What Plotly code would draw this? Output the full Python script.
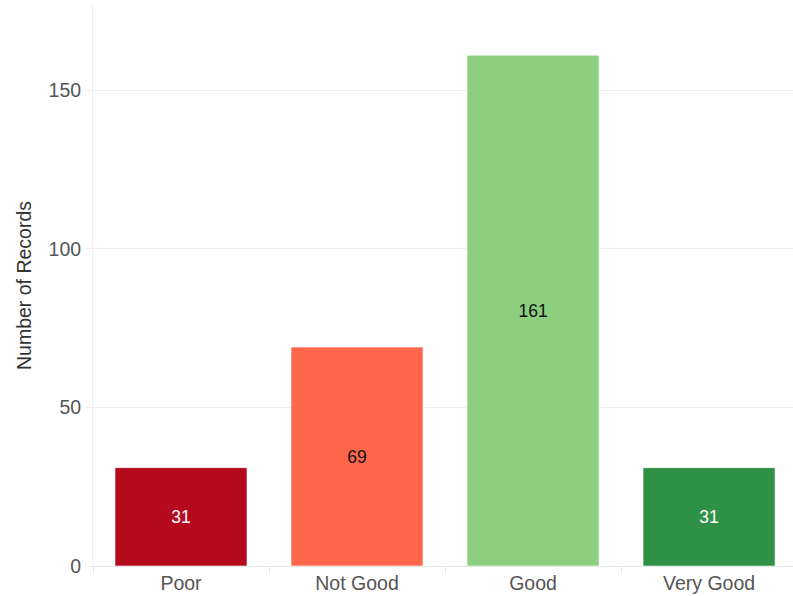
import plotly.graph_objects as go

categories = ["Poor", "Not Good", "Good", "Very Good"]
records = [31, 69, 161, 31]
bar_colors = ["#b50a1e", "#fe674b", "#8bcf7f", "#2f9145"]
label_colors = ["#ffffff", "#111111", "#111111", "#ffffff"]
y_ticks = [0, 50, 100, 150]

font_family = "Liberation Sans, Arial, Helvetica, sans-serif"

fig = go.Figure(
    go.Bar(
        x=categories,
        y=records,
        width=0.75,
        marker=dict(color=bar_colors, line=dict(color="rgba(255,255,255,0.6)", width=1)),
        text=[str(v) for v in records],
        textposition="inside",
        insidetextanchor="middle",
        textangle=0,
        textfont=dict(family=font_family, size=17.5, color=label_colors),
        hoverinfo="skip",
    )
)

fig.update_layout(
    width=793,
    height=596,
    margin=dict(l=93, r=0, t=5, b=30),
    paper_bgcolor="white",
    plot_bgcolor="white",
    font=dict(family=font_family, size=19.5, color="#555555"),
    showlegend=False,
)

fig.update_xaxes(
    range=[-0.5, 3.477],
    tickson="boundaries",
    ticks="outside",
    ticklen=7,
    tickcolor="#e6e6e6",
    showline=True,
    linecolor="#e6e6e6",
    linewidth=1,
    showgrid=False,
    tickfont=dict(size=19.5, color="#555555"),
)

fig.update_yaxes(
    range=[0, 176.8],
    tickvals=y_ticks,
    ticks="outside",
    ticklen=7,
    tickcolor="#eeeeee",
    showline=True,
    linecolor="#eeeeee",
    linewidth=1,
    gridcolor="#efefef",
    gridwidth=1,
    zeroline=False,
    tickfont=dict(size=19.5, color="#555555"),
    title=dict(text="Number of Records", font=dict(size=19.5, color="#333333"), standoff=11),
)

fig.write_html("out.html")
